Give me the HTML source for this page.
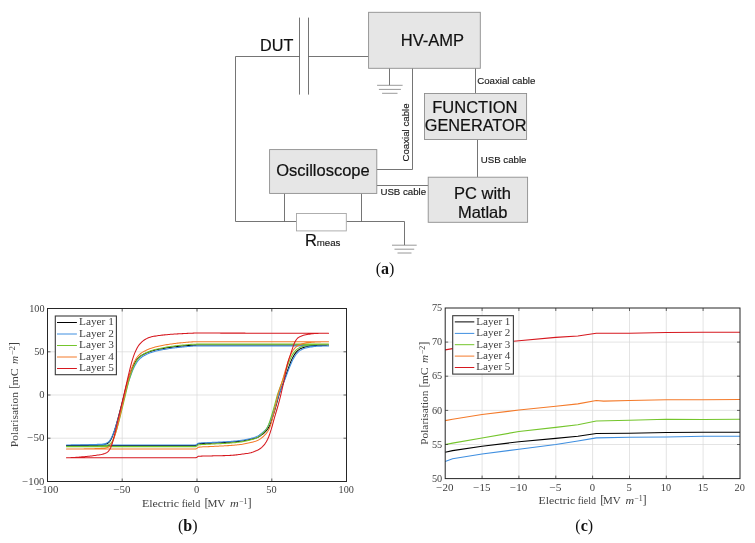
<!DOCTYPE html>
<html><head><meta charset="utf-8"><title>Figure</title>
<style>html,body{margin:0;padding:0;background:#fff}svg{display:block}.sans{font-family:"Liberation Sans",Arial,sans-serif;fill:#111;stroke:#111;stroke-width:0.2px}.sm{font-family:"Liberation Sans",Arial,sans-serif;fill:#1a1a1a;stroke:#1a1a1a;stroke-width:0.15px}.ser{font-family:"Liberation Serif","Times New Roman",serif;fill:#404040}.cap{font-family:"Liberation Serif","Times New Roman",serif;fill:#111}</style></head><body>
<svg width="755" height="543" viewBox="0 0 755 543">
<rect x="0" y="0" width="755" height="543" fill="#ffffff"/>
<g fill="none" stroke="#5c5c5c" stroke-width="0.85">
<path d="M299.5 56.5 H235.5 V221.5 H296.5"/>
<path d="M299.5 17.6 V94.6 M308.5 17.6 V94.6"/>
<path d="M308.5 56.5 H368.5"/>
<path d="M389.5 68 V85.2"/>
<path d="M377.1 85.3 H402.6 M378.9 89.4 H400.9 M382.1 93.3 H397.5" stroke="#777" stroke-width="0.75"/>
<path d="M412.5 68 V169.5 H376.8"/>
<path d="M475.5 68 V93.5"/>
<path d="M477.5 139.5 V177"/>
<path d="M376.8 185.5 H428.2"/>
<path d="M284.5 193.4 V221.5 M361.5 193.4 V221.5"/>
<path d="M346.3 221.5 H404.5 V245.1"/>
<path d="M392 245.2 H416.7 M394.5 249.2 H414.2 M397.5 253.0 H411.5" stroke="#777" stroke-width="0.75"/>
</g>
<rect x="368.6" y="12.3" width="111.7" height="56.0" fill="#e6e6e6" stroke="#8e8e8e" stroke-width="0.9"/>
<rect x="424.5" y="93.5" width="102.1" height="46.0" fill="#e6e6e6" stroke="#8e8e8e" stroke-width="0.9"/>
<rect x="428.2" y="177.2" width="99.4" height="45.1" fill="#e6e6e6" stroke="#8e8e8e" stroke-width="0.9"/>
<rect x="269.6" y="149.6" width="107.2" height="43.8" fill="#e6e6e6" stroke="#8e8e8e" stroke-width="0.9"/>
<rect x="296.5" y="213.5" width="49.8" height="17.4" fill="#ffffff" stroke="#a6a6a6" stroke-width="0.9"/>
<text class="sans" x="260.1" y="51" font-size="16.2" text-anchor="start" >DUT</text>
<text class="sans" x="432.4" y="45.8" font-size="16.5" text-anchor="middle" >HV-AMP</text>
<text class="sans" x="474.9" y="112.7" font-size="16.5" text-anchor="middle" >FUNCTION</text>
<text class="sans" x="475.6" y="131" font-size="16.5" text-anchor="middle" textLength="101.6" lengthAdjust="spacingAndGlyphs">GENERATOR</text>
<text class="sans" x="482.4" y="199.4" font-size="16.5" text-anchor="middle" >PC with</text>
<text class="sans" x="482.7" y="218" font-size="16.5" text-anchor="middle" >Matlab</text>
<text class="sans" x="322.9" y="176" font-size="16.5" text-anchor="middle" >Oscilloscope</text>
<text class="sm" x="477.2" y="83.8" font-size="9.7" >Coaxial cable</text>
<text class="sm" x="480.7" y="162.5" font-size="9.7" >USB cable</text>
<text class="sm" x="380.4" y="195.2" font-size="9.7" >USB cable</text>
<text class="sm" font-size="9.7" transform="translate(408.7,161.6) rotate(-90)">Coaxial cable</text>
<text class="sans" x="305.1" y="246" font-size="16.5">R</text>
<text class="sm" x="316.7" y="246" font-size="9.7" >meas</text>
<text class="cap" x="385" y="273.8" font-size="16" text-anchor="middle">(<tspan font-weight="bold">a</tspan>)</text>
<text class="cap" x="187.7" y="530.8" font-size="16" text-anchor="middle">(<tspan font-weight="bold">b</tspan>)</text>
<text class="cap" x="584.2" y="530.8" font-size="16" text-anchor="middle">(<tspan font-weight="bold">c</tspan>)</text>
<g stroke="#d9d9d9" stroke-width="0.7" fill="none">
<path d="M122.2 308.5 V481.5"/>
<path d="M197.0 308.5 V481.5"/>
<path d="M271.8 308.5 V481.5"/>
<path d="M47.5 438.2 H346.5"/>
<path d="M47.5 395.0 H346.5"/>
<path d="M47.5 351.8 H346.5"/>
</g>
<g fill="none" stroke-linejoin="round">
<path d="M66.49 445.52 L67.68 445.52 L68.88 445.52 L70.08 445.52 L71.27 445.52 L72.47 445.52 L73.67 445.52 L74.86 445.52 L76.06 445.52 L77.26 445.52 L78.45 445.52 L79.65 445.52 L80.85 445.52 L82.04 445.52 L83.24 445.52 L84.44 445.52 L85.63 445.52 L86.83 445.52 L88.03 445.52 L89.22 445.52 L90.42 445.52 L91.62 445.52 L92.81 445.52 L94.01 445.52 L95.21 445.52 L96.40 445.52 L97.60 445.52 L98.80 445.52 L99.99 445.52 L101.19 445.52 L102.39 445.52 L103.58 445.52 L104.78 445.52 L105.98 445.52 L107.17 445.52 L108.37 445.52 L109.57 445.52 L110.76 445.52 L111.96 445.52 L113.16 445.52 L114.35 445.52 L115.55 445.52 L116.75 445.52 L117.94 445.52 L119.14 445.52 L120.34 445.52 L121.53 445.52 L122.73 445.52 L123.93 445.52 L125.12 445.52 L126.32 445.52 L127.52 445.52 L128.71 445.52 L129.91 445.52 L131.11 445.52 L132.30 445.52 L133.50 445.52 L134.70 445.52 L135.89 445.52 L137.09 445.52 L138.29 445.52 L139.48 445.52 L140.68 445.52 L141.88 445.52 L143.07 445.52 L144.27 445.52 L145.47 445.52 L146.66 445.52 L147.86 445.52 L149.06 445.52 L150.25 445.52 L151.45 445.52 L152.65 445.52 L153.84 445.52 L155.04 445.52 L156.24 445.52 L157.43 445.52 L158.63 445.52 L159.83 445.52 L161.02 445.52 L162.22 445.52 L163.42 445.52 L164.61 445.52 L165.81 445.52 L167.01 445.52 L168.20 445.52 L169.40 445.52 L170.60 445.52 L171.79 445.52 L172.99 445.52 L174.19 445.52 L175.38 445.52 L176.58 445.52 L177.78 445.52 L178.97 445.52 L180.17 445.52 L181.37 445.52 L182.56 445.52 L183.76 445.52 L184.96 445.52 L186.15 445.52 L187.35 445.52 L188.55 445.52 L189.74 445.52 L190.94 445.52 L192.14 445.52 L193.33 445.52 L194.53 445.52 L195.73 445.52 L196.92 444.89 L198.12 443.85 L199.32 443.70 L200.51 443.58 L201.71 443.49 L202.91 443.42 L204.11 443.36 L205.30 443.32 L206.50 443.29 L207.70 443.25 L208.89 443.22 L210.09 443.18 L211.29 443.13 L212.48 443.07 L213.68 443.00 L214.88 442.94 L216.07 442.88 L217.27 442.83 L218.47 442.77 L219.66 442.72 L220.86 442.66 L222.06 442.60 L223.25 442.55 L224.45 442.48 L225.65 442.42 L226.84 442.35 L228.04 442.28 L229.24 442.21 L230.43 442.13 L231.63 442.04 L232.83 441.95 L234.02 441.85 L235.22 441.74 L236.42 441.63 L237.61 441.51 L238.81 441.38 L240.01 441.25 L241.20 441.10 L242.40 440.94 L243.60 440.75 L244.79 440.53 L245.99 440.31 L247.19 440.07 L248.38 439.83 L249.58 439.58 L250.78 439.30 L251.97 439.02 L253.17 438.73 L254.37 438.43 L255.56 438.09 L256.76 437.69 L257.96 437.19 L259.15 436.54 L260.35 435.79 L261.55 434.94 L262.74 434.04 L263.94 433.06 L265.14 431.95 L266.33 430.69 L267.53 429.24 L268.73 427.41 L269.92 425.02 L271.12 421.87 L272.32 418.15 L273.51 414.34 L274.71 410.35 L275.91 406.19 L277.10 401.84 L278.30 397.31 L279.50 393.28 L280.69 389.86 L281.89 386.72 L283.09 383.58 L284.28 380.22 L285.48 376.67 L286.68 373.09 L287.87 369.62 L289.07 366.32 L290.27 363.06 L291.46 360.12 L292.66 357.64 L293.86 355.46 L295.05 353.63 L296.25 352.13 L297.45 350.83 L298.64 349.83 L299.84 349.07 L301.04 348.41 L302.23 347.88 L303.43 347.46 L304.63 347.12 L305.82 346.81 L307.02 346.55 L308.22 346.32 L309.41 346.12 L310.61 345.97 L311.81 345.83 L313.00 345.71 L314.20 345.60 L315.40 345.50 L316.59 345.41 L317.79 345.34 L318.99 345.29 L320.18 345.25 L321.38 345.21 L322.58 345.18 L323.77 345.15 L324.97 345.12 L326.17 345.11 L327.36 345.09 L328.56 345.09 L328.56 345.09 L327.36 345.09 L326.17 345.09 L324.97 345.09 L323.77 345.09 L322.58 345.09 L321.38 345.09 L320.18 345.09 L318.99 345.09 L317.79 345.09 L316.59 345.09 L315.40 345.09 L314.20 345.09 L313.00 345.09 L311.81 345.09 L310.61 345.09 L309.41 345.09 L308.22 345.09 L307.02 345.09 L305.82 345.09 L304.63 345.09 L303.43 345.09 L302.23 345.09 L301.04 345.09 L299.84 345.09 L298.64 345.09 L297.45 345.09 L296.25 345.09 L295.05 345.09 L293.86 345.09 L292.66 345.09 L291.46 345.09 L290.27 345.09 L289.07 345.09 L287.87 345.09 L286.68 345.09 L285.48 345.09 L284.28 345.09 L283.09 345.09 L281.89 345.09 L280.69 345.09 L279.50 345.09 L278.30 345.09 L277.10 345.09 L275.91 345.09 L274.71 345.09 L273.51 345.09 L272.32 345.09 L271.12 345.09 L269.92 345.09 L268.73 345.09 L267.53 345.09 L266.33 345.09 L265.14 345.09 L263.94 345.09 L262.74 345.09 L261.55 345.09 L260.35 345.09 L259.15 345.09 L257.96 345.09 L256.76 345.09 L255.56 345.09 L254.37 345.09 L253.17 345.09 L251.97 345.09 L250.78 345.09 L249.58 345.09 L248.38 345.09 L247.19 345.09 L245.99 345.09 L244.79 345.09 L243.60 345.09 L242.40 345.09 L241.20 345.09 L240.01 345.09 L238.81 345.09 L237.61 345.09 L236.42 345.09 L235.22 345.09 L234.02 345.09 L232.83 345.09 L231.63 345.09 L230.43 345.09 L229.24 345.09 L228.04 345.09 L226.84 345.09 L225.65 345.09 L224.45 345.09 L223.25 345.09 L222.06 345.09 L220.86 345.09 L219.66 345.09 L218.47 345.09 L217.27 345.09 L216.07 345.09 L214.88 345.09 L213.68 345.09 L212.48 345.09 L211.29 345.09 L210.09 345.09 L208.89 345.09 L207.70 345.09 L206.50 345.09 L205.30 345.09 L204.11 345.09 L202.91 345.09 L201.71 345.09 L200.51 345.09 L199.32 345.09 L198.12 345.09 L196.92 345.09 L195.73 345.10 L194.53 345.13 L193.33 345.17 L192.14 345.23 L190.94 345.30 L189.74 345.38 L188.55 345.47 L187.35 345.57 L186.15 345.67 L184.96 345.77 L183.76 345.87 L182.56 345.97 L181.37 346.07 L180.17 346.18 L178.97 346.29 L177.78 346.41 L176.58 346.54 L175.38 346.68 L174.19 346.83 L172.99 346.98 L171.79 347.13 L170.60 347.29 L169.40 347.46 L168.20 347.63 L167.01 347.82 L165.81 348.01 L164.61 348.22 L163.42 348.43 L162.22 348.65 L161.02 348.87 L159.83 349.10 L158.63 349.34 L157.43 349.58 L156.24 349.84 L155.04 350.11 L153.84 350.40 L152.65 350.72 L151.45 351.07 L150.25 351.47 L149.06 351.91 L147.86 352.38 L146.66 352.89 L145.47 353.42 L144.27 353.97 L143.07 354.56 L141.88 355.24 L140.68 356.02 L139.48 356.97 L138.29 358.10 L137.09 359.41 L135.89 361.00 L134.70 362.94 L133.50 365.19 L132.30 367.79 L131.11 370.79 L129.91 374.12 L128.71 377.72 L127.52 381.55 L126.32 385.94 L125.12 390.74 L123.93 395.62 L122.73 400.32 L121.53 405.01 L120.34 409.68 L119.14 414.24 L117.94 418.62 L116.75 422.98 L115.55 427.17 L114.35 430.99 L113.16 434.36 L111.96 437.42 L110.76 439.80 L109.57 441.62 L108.37 442.79 L107.17 443.55 L105.98 444.05 L104.78 444.31 L103.58 444.51 L102.39 444.66 L101.19 444.77 L99.99 444.85 L98.80 444.92 L97.60 444.98 L96.40 445.03 L95.21 445.08 L94.01 445.12 L92.81 445.16 L91.62 445.19 L90.42 445.22 L89.22 445.24 L88.03 445.26 L86.83 445.29 L85.63 445.31 L84.44 445.33 L83.24 445.35 L82.04 445.37 L80.85 445.39 L79.65 445.41 L78.45 445.42 L77.26 445.44 L76.06 445.46 L74.86 445.47 L73.67 445.48 L72.47 445.49 L71.27 445.50 L70.08 445.51 L68.88 445.51 L67.68 445.51 L66.49 445.52Z" stroke="#000000" stroke-width="1.05"/>
<path d="M66.49 444.91 L67.68 444.91 L68.88 444.91 L70.08 444.91 L71.27 444.91 L72.47 444.91 L73.67 444.91 L74.86 444.91 L76.06 444.91 L77.26 444.91 L78.45 444.91 L79.65 444.91 L80.85 444.91 L82.04 444.91 L83.24 444.91 L84.44 444.91 L85.63 444.91 L86.83 444.91 L88.03 444.91 L89.22 444.91 L90.42 444.91 L91.62 444.91 L92.81 444.91 L94.01 444.91 L95.21 444.91 L96.40 444.91 L97.60 444.91 L98.80 444.91 L99.99 444.91 L101.19 444.91 L102.39 444.91 L103.58 444.91 L104.78 444.91 L105.98 444.91 L107.17 444.91 L108.37 444.91 L109.57 444.91 L110.76 444.91 L111.96 444.91 L113.16 444.91 L114.35 444.91 L115.55 444.91 L116.75 444.91 L117.94 444.91 L119.14 444.91 L120.34 444.91 L121.53 444.91 L122.73 444.91 L123.93 444.91 L125.12 444.91 L126.32 444.91 L127.52 444.91 L128.71 444.91 L129.91 444.91 L131.11 444.91 L132.30 444.91 L133.50 444.91 L134.70 444.91 L135.89 444.91 L137.09 444.91 L138.29 444.91 L139.48 444.91 L140.68 444.91 L141.88 444.91 L143.07 444.91 L144.27 444.91 L145.47 444.91 L146.66 444.91 L147.86 444.91 L149.06 444.91 L150.25 444.91 L151.45 444.91 L152.65 444.91 L153.84 444.91 L155.04 444.91 L156.24 444.91 L157.43 444.91 L158.63 444.91 L159.83 444.91 L161.02 444.91 L162.22 444.91 L163.42 444.91 L164.61 444.91 L165.81 444.91 L167.01 444.91 L168.20 444.91 L169.40 444.91 L170.60 444.91 L171.79 444.91 L172.99 444.91 L174.19 444.91 L175.38 444.91 L176.58 444.91 L177.78 444.91 L178.97 444.91 L180.17 444.91 L181.37 444.91 L182.56 444.91 L183.76 444.91 L184.96 444.91 L186.15 444.91 L187.35 444.91 L188.55 444.91 L189.74 444.91 L190.94 444.91 L192.14 444.91 L193.33 444.91 L194.53 444.91 L195.73 444.91 L196.92 444.29 L198.12 443.26 L199.32 443.10 L200.51 442.97 L201.71 442.88 L202.91 442.81 L204.11 442.75 L205.30 442.71 L206.50 442.67 L207.70 442.63 L208.89 442.58 L210.09 442.53 L211.29 442.46 L212.48 442.39 L213.68 442.33 L214.88 442.28 L216.07 442.22 L217.27 442.17 L218.47 442.11 L219.66 442.06 L220.86 442.00 L222.06 441.95 L223.25 441.89 L224.45 441.82 L225.65 441.76 L226.84 441.68 L228.04 441.61 L229.24 441.53 L230.43 441.44 L231.63 441.35 L232.83 441.25 L234.02 441.14 L235.22 441.03 L236.42 440.90 L237.61 440.77 L238.81 440.64 L240.01 440.49 L241.20 440.32 L242.40 440.13 L243.60 439.91 L244.79 439.68 L245.99 439.45 L247.19 439.21 L248.38 438.95 L249.58 438.68 L250.78 438.40 L251.97 438.11 L253.17 437.81 L254.37 437.46 L255.56 437.05 L256.76 436.52 L257.96 435.86 L259.15 435.11 L260.35 434.28 L261.55 433.39 L262.74 432.43 L263.94 431.34 L265.14 430.12 L266.33 428.72 L267.53 426.98 L268.73 424.76 L269.92 421.94 L271.12 418.64 L272.32 415.21 L273.51 411.71 L274.71 408.05 L275.91 404.31 L277.10 400.34 L278.30 396.39 L279.50 392.90 L280.69 389.84 L281.89 386.99 L283.09 384.15 L284.28 381.15 L285.48 377.98 L286.68 374.76 L287.87 371.58 L289.07 368.55 L290.27 365.56 L291.46 362.68 L292.66 360.11 L293.86 357.89 L295.05 355.91 L296.25 354.24 L297.45 352.83 L298.64 351.61 L299.84 350.65 L301.04 349.92 L302.23 349.28 L303.43 348.76 L304.63 348.35 L305.82 348.01 L307.02 347.72 L308.22 347.46 L309.41 347.23 L310.61 347.04 L311.81 346.87 L313.00 346.73 L314.20 346.59 L315.40 346.46 L316.59 346.35 L317.79 346.26 L318.99 346.19 L320.18 346.15 L321.38 346.12 L322.58 346.08 L323.77 346.05 L324.97 346.03 L326.17 346.01 L327.36 346.00 L328.56 346.00 L328.56 346.00 L327.36 346.00 L326.17 346.00 L324.97 346.00 L323.77 346.00 L322.58 346.00 L321.38 346.00 L320.18 346.00 L318.99 346.00 L317.79 346.00 L316.59 346.00 L315.40 346.00 L314.20 346.00 L313.00 346.00 L311.81 346.00 L310.61 346.00 L309.41 346.00 L308.22 346.00 L307.02 346.00 L305.82 346.00 L304.63 346.00 L303.43 346.00 L302.23 346.00 L301.04 346.00 L299.84 346.00 L298.64 346.00 L297.45 346.00 L296.25 346.00 L295.05 346.00 L293.86 346.00 L292.66 346.00 L291.46 346.00 L290.27 346.00 L289.07 346.00 L287.87 346.00 L286.68 346.00 L285.48 346.00 L284.28 346.00 L283.09 346.00 L281.89 346.00 L280.69 346.00 L279.50 346.00 L278.30 346.00 L277.10 346.00 L275.91 346.00 L274.71 346.00 L273.51 346.00 L272.32 346.00 L271.12 346.00 L269.92 346.00 L268.73 346.00 L267.53 346.00 L266.33 346.00 L265.14 346.00 L263.94 346.00 L262.74 346.00 L261.55 346.00 L260.35 346.00 L259.15 346.00 L257.96 346.00 L256.76 346.00 L255.56 346.00 L254.37 346.00 L253.17 346.00 L251.97 346.00 L250.78 346.00 L249.58 346.00 L248.38 346.00 L247.19 346.00 L245.99 346.00 L244.79 346.00 L243.60 346.00 L242.40 346.00 L241.20 346.00 L240.01 346.00 L238.81 346.00 L237.61 346.00 L236.42 346.00 L235.22 346.00 L234.02 346.00 L232.83 346.00 L231.63 346.00 L230.43 346.00 L229.24 346.00 L228.04 346.00 L226.84 346.00 L225.65 346.00 L224.45 346.00 L223.25 346.00 L222.06 346.00 L220.86 346.00 L219.66 346.00 L218.47 346.00 L217.27 346.00 L216.07 346.00 L214.88 346.00 L213.68 346.00 L212.48 346.00 L211.29 346.00 L210.09 346.00 L208.89 346.00 L207.70 346.00 L206.50 346.00 L205.30 346.00 L204.11 346.00 L202.91 346.00 L201.71 346.00 L200.51 346.00 L199.32 346.00 L198.12 346.00 L196.92 346.00 L195.73 346.01 L194.53 346.05 L193.33 346.10 L192.14 346.18 L190.94 346.26 L189.74 346.36 L188.55 346.47 L187.35 346.58 L186.15 346.69 L184.96 346.80 L183.76 346.91 L182.56 347.01 L181.37 347.12 L180.17 347.24 L178.97 347.37 L177.78 347.50 L176.58 347.63 L175.38 347.77 L174.19 347.92 L172.99 348.07 L171.79 348.23 L170.60 348.40 L169.40 348.58 L168.20 348.76 L167.01 348.96 L165.81 349.16 L164.61 349.37 L163.42 349.59 L162.22 349.81 L161.02 350.04 L159.83 350.27 L158.63 350.51 L157.43 350.77 L156.24 351.04 L155.04 351.34 L153.84 351.66 L152.65 352.02 L151.45 352.42 L150.25 352.86 L149.06 353.34 L147.86 353.84 L146.66 354.36 L145.47 354.91 L144.27 355.51 L143.07 356.19 L141.88 357.00 L140.68 357.97 L139.48 359.10 L138.29 360.41 L137.09 362.00 L135.89 363.91 L134.70 366.07 L133.50 368.56 L132.30 371.39 L131.11 374.49 L129.91 377.81 L128.71 381.30 L127.52 385.23 L126.32 389.53 L125.12 393.96 L123.93 398.31 L122.73 402.57 L121.53 406.85 L120.34 411.10 L119.14 415.22 L117.94 419.23 L116.75 423.22 L115.55 427.05 L114.35 430.57 L113.16 433.73 L111.96 436.63 L110.76 438.98 L109.57 440.78 L108.37 442.04 L107.17 442.83 L105.98 443.38 L104.78 443.67 L103.58 443.88 L102.39 444.03 L101.19 444.15 L99.99 444.24 L98.80 444.30 L97.60 444.36 L96.40 444.42 L95.21 444.47 L94.01 444.51 L92.81 444.55 L91.62 444.58 L90.42 444.61 L89.22 444.63 L88.03 444.66 L86.83 444.68 L85.63 444.70 L84.44 444.72 L83.24 444.74 L82.04 444.76 L80.85 444.78 L79.65 444.80 L78.45 444.82 L77.26 444.83 L76.06 444.85 L74.86 444.86 L73.67 444.87 L72.47 444.89 L71.27 444.89 L70.08 444.90 L68.88 444.91 L67.68 444.91 L66.49 444.91Z" stroke="#3f8fe0" stroke-width="1.05"/>
<path d="M66.49 446.64 L67.68 446.64 L68.88 446.64 L70.08 446.64 L71.27 446.64 L72.47 446.64 L73.67 446.64 L74.86 446.64 L76.06 446.64 L77.26 446.64 L78.45 446.64 L79.65 446.64 L80.85 446.64 L82.04 446.64 L83.24 446.64 L84.44 446.64 L85.63 446.64 L86.83 446.64 L88.03 446.64 L89.22 446.64 L90.42 446.64 L91.62 446.64 L92.81 446.64 L94.01 446.64 L95.21 446.64 L96.40 446.64 L97.60 446.64 L98.80 446.64 L99.99 446.64 L101.19 446.64 L102.39 446.64 L103.58 446.64 L104.78 446.64 L105.98 446.64 L107.17 446.64 L108.37 446.64 L109.57 446.64 L110.76 446.64 L111.96 446.64 L113.16 446.64 L114.35 446.64 L115.55 446.64 L116.75 446.64 L117.94 446.64 L119.14 446.64 L120.34 446.64 L121.53 446.64 L122.73 446.64 L123.93 446.64 L125.12 446.64 L126.32 446.64 L127.52 446.64 L128.71 446.64 L129.91 446.64 L131.11 446.64 L132.30 446.64 L133.50 446.64 L134.70 446.64 L135.89 446.64 L137.09 446.64 L138.29 446.64 L139.48 446.64 L140.68 446.64 L141.88 446.64 L143.07 446.64 L144.27 446.64 L145.47 446.64 L146.66 446.64 L147.86 446.64 L149.06 446.64 L150.25 446.64 L151.45 446.64 L152.65 446.64 L153.84 446.64 L155.04 446.64 L156.24 446.64 L157.43 446.64 L158.63 446.64 L159.83 446.64 L161.02 446.64 L162.22 446.64 L163.42 446.64 L164.61 446.64 L165.81 446.64 L167.01 446.64 L168.20 446.64 L169.40 446.64 L170.60 446.64 L171.79 446.64 L172.99 446.64 L174.19 446.64 L175.38 446.64 L176.58 446.64 L177.78 446.64 L178.97 446.64 L180.17 446.64 L181.37 446.64 L182.56 446.64 L183.76 446.64 L184.96 446.64 L186.15 446.64 L187.35 446.64 L188.55 446.64 L189.74 446.64 L190.94 446.64 L192.14 446.64 L193.33 446.64 L194.53 446.64 L195.73 446.64 L196.92 446.00 L198.12 444.93 L199.32 444.76 L200.51 444.63 L201.71 444.54 L202.91 444.46 L204.11 444.40 L205.30 444.36 L206.50 444.32 L207.70 444.28 L208.89 444.23 L210.09 444.17 L211.29 444.10 L212.48 444.03 L213.68 443.97 L214.88 443.91 L216.07 443.85 L217.27 443.80 L218.47 443.74 L219.66 443.68 L220.86 443.63 L222.06 443.57 L223.25 443.51 L224.45 443.44 L225.65 443.37 L226.84 443.30 L228.04 443.22 L229.24 443.13 L230.43 443.04 L231.63 442.94 L232.83 442.84 L234.02 442.73 L235.22 442.61 L236.42 442.48 L237.61 442.35 L238.81 442.20 L240.01 442.05 L241.20 441.88 L242.40 441.67 L243.60 441.44 L244.79 441.20 L245.99 440.96 L247.19 440.71 L248.38 440.44 L249.58 440.15 L250.78 439.86 L251.97 439.56 L253.17 439.24 L254.37 438.86 L255.56 438.42 L256.76 437.84 L257.96 437.12 L259.15 436.31 L260.35 435.42 L261.55 434.47 L262.74 433.41 L263.94 432.22 L265.14 430.86 L266.33 429.27 L267.53 427.15 L268.73 424.44 L269.92 420.97 L271.12 417.14 L272.32 413.27 L273.51 409.17 L274.71 404.95 L275.91 400.45 L277.10 395.99 L278.30 392.16 L279.50 388.83 L280.69 385.69 L281.89 382.49 L283.09 379.04 L284.28 375.45 L285.48 371.86 L286.68 368.42 L287.87 365.09 L289.07 361.86 L290.27 358.97 L291.46 356.53 L292.66 354.38 L293.86 352.59 L295.05 351.09 L296.25 349.82 L297.45 348.85 L298.64 348.09 L299.84 347.44 L301.04 346.91 L302.23 346.50 L303.43 346.16 L304.63 345.85 L305.82 345.58 L307.02 345.35 L308.22 345.16 L309.41 345.02 L310.61 344.89 L311.81 344.78 L313.00 344.68 L314.20 344.59 L315.40 344.51 L316.59 344.44 L317.79 344.38 L318.99 344.34 L320.18 344.30 L321.38 344.26 L322.58 344.23 L323.77 344.20 L324.97 344.17 L326.17 344.16 L327.36 344.14 L328.56 344.14 L328.56 344.14 L327.36 344.14 L326.17 344.14 L324.97 344.14 L323.77 344.14 L322.58 344.14 L321.38 344.14 L320.18 344.14 L318.99 344.14 L317.79 344.14 L316.59 344.14 L315.40 344.14 L314.20 344.14 L313.00 344.14 L311.81 344.14 L310.61 344.14 L309.41 344.14 L308.22 344.14 L307.02 344.14 L305.82 344.14 L304.63 344.14 L303.43 344.14 L302.23 344.14 L301.04 344.14 L299.84 344.14 L298.64 344.14 L297.45 344.14 L296.25 344.14 L295.05 344.14 L293.86 344.14 L292.66 344.14 L291.46 344.14 L290.27 344.14 L289.07 344.14 L287.87 344.14 L286.68 344.14 L285.48 344.14 L284.28 344.14 L283.09 344.14 L281.89 344.14 L280.69 344.14 L279.50 344.14 L278.30 344.14 L277.10 344.14 L275.91 344.14 L274.71 344.14 L273.51 344.14 L272.32 344.14 L271.12 344.14 L269.92 344.14 L268.73 344.14 L267.53 344.14 L266.33 344.14 L265.14 344.14 L263.94 344.14 L262.74 344.14 L261.55 344.14 L260.35 344.14 L259.15 344.14 L257.96 344.14 L256.76 344.14 L255.56 344.14 L254.37 344.14 L253.17 344.14 L251.97 344.14 L250.78 344.14 L249.58 344.14 L248.38 344.14 L247.19 344.14 L245.99 344.14 L244.79 344.14 L243.60 344.14 L242.40 344.14 L241.20 344.14 L240.01 344.14 L238.81 344.14 L237.61 344.14 L236.42 344.14 L235.22 344.14 L234.02 344.14 L232.83 344.14 L231.63 344.14 L230.43 344.14 L229.24 344.14 L228.04 344.14 L226.84 344.14 L225.65 344.14 L224.45 344.14 L223.25 344.14 L222.06 344.14 L220.86 344.14 L219.66 344.14 L218.47 344.14 L217.27 344.14 L216.07 344.14 L214.88 344.14 L213.68 344.14 L212.48 344.14 L211.29 344.14 L210.09 344.14 L208.89 344.14 L207.70 344.14 L206.50 344.14 L205.30 344.14 L204.11 344.14 L202.91 344.14 L201.71 344.14 L200.51 344.14 L199.32 344.14 L198.12 344.14 L196.92 344.14 L195.73 344.15 L194.53 344.18 L193.33 344.23 L192.14 344.30 L190.94 344.38 L189.74 344.47 L188.55 344.57 L187.35 344.68 L186.15 344.79 L184.96 344.90 L183.76 345.01 L182.56 345.11 L181.37 345.22 L180.17 345.34 L178.97 345.46 L177.78 345.59 L176.58 345.73 L175.38 345.87 L174.19 346.02 L172.99 346.18 L171.79 346.34 L170.60 346.51 L169.40 346.69 L168.20 346.87 L167.01 347.07 L165.81 347.28 L164.61 347.49 L163.42 347.71 L162.22 347.94 L161.02 348.17 L159.83 348.41 L158.63 348.66 L157.43 348.92 L156.24 349.19 L155.04 349.49 L153.84 349.81 L152.65 350.16 L151.45 350.55 L150.25 350.99 L149.06 351.47 L147.86 351.99 L146.66 352.52 L145.47 353.08 L144.27 353.68 L143.07 354.35 L141.88 355.13 L140.68 356.08 L139.48 357.21 L138.29 358.53 L137.09 360.11 L135.89 362.08 L134.70 364.37 L133.50 367.03 L132.30 370.13 L131.11 373.60 L129.91 377.36 L128.71 381.38 L127.52 386.03 L126.32 391.12 L125.12 396.27 L123.93 401.22 L122.73 406.20 L121.53 411.13 L120.34 415.91 L119.14 420.52 L117.94 425.09 L116.75 429.39 L115.55 433.20 L114.35 436.63 L113.16 439.56 L111.96 441.72 L110.76 443.33 L109.57 444.26 L108.37 444.92 L107.17 445.29 L105.98 445.52 L104.78 445.69 L103.58 445.83 L102.39 445.92 L101.19 445.99 L99.99 446.06 L98.80 446.12 L97.60 446.17 L96.40 446.21 L95.21 446.26 L94.01 446.29 L92.81 446.32 L91.62 446.35 L90.42 446.37 L89.22 446.39 L88.03 446.42 L86.83 446.44 L85.63 446.46 L84.44 446.48 L83.24 446.49 L82.04 446.51 L80.85 446.53 L79.65 446.55 L78.45 446.56 L77.26 446.58 L76.06 446.59 L74.86 446.60 L73.67 446.61 L72.47 446.62 L71.27 446.63 L70.08 446.63 L68.88 446.64 L67.68 446.64 L66.49 446.64Z" stroke="#74c52c" stroke-width="1.05"/>
<path d="M66.49 449.06 L67.68 449.06 L68.88 449.06 L70.08 449.06 L71.27 449.06 L72.47 449.06 L73.67 449.06 L74.86 449.06 L76.06 449.06 L77.26 449.06 L78.45 449.06 L79.65 449.06 L80.85 449.06 L82.04 449.06 L83.24 449.06 L84.44 449.06 L85.63 449.06 L86.83 449.06 L88.03 449.06 L89.22 449.06 L90.42 449.06 L91.62 449.06 L92.81 449.06 L94.01 449.06 L95.21 449.06 L96.40 449.06 L97.60 449.06 L98.80 449.06 L99.99 449.06 L101.19 449.06 L102.39 449.06 L103.58 449.06 L104.78 449.06 L105.98 449.06 L107.17 449.06 L108.37 449.06 L109.57 449.06 L110.76 449.06 L111.96 449.06 L113.16 449.06 L114.35 449.06 L115.55 449.06 L116.75 449.06 L117.94 449.06 L119.14 449.06 L120.34 449.06 L121.53 449.06 L122.73 449.06 L123.93 449.06 L125.12 449.06 L126.32 449.06 L127.52 449.06 L128.71 449.06 L129.91 449.06 L131.11 449.06 L132.30 449.06 L133.50 449.06 L134.70 449.06 L135.89 449.06 L137.09 449.06 L138.29 449.06 L139.48 449.06 L140.68 449.06 L141.88 449.06 L143.07 449.06 L144.27 449.06 L145.47 449.06 L146.66 449.06 L147.86 449.06 L149.06 449.06 L150.25 449.06 L151.45 449.06 L152.65 449.06 L153.84 449.06 L155.04 449.06 L156.24 449.06 L157.43 449.06 L158.63 449.06 L159.83 449.06 L161.02 449.06 L162.22 449.06 L163.42 449.06 L164.61 449.06 L165.81 449.06 L167.01 449.06 L168.20 449.06 L169.40 449.06 L170.60 449.06 L171.79 449.06 L172.99 449.06 L174.19 449.06 L175.38 449.06 L176.58 449.06 L177.78 449.06 L178.97 449.06 L180.17 449.06 L181.37 449.06 L182.56 449.06 L183.76 449.06 L184.96 449.06 L186.15 449.06 L187.35 449.06 L188.55 449.06 L189.74 449.06 L190.94 449.06 L192.14 449.06 L193.33 449.06 L194.53 449.06 L195.73 449.06 L196.92 448.39 L198.12 447.28 L199.32 447.13 L200.51 447.00 L201.71 446.91 L202.91 446.83 L204.11 446.77 L205.30 446.72 L206.50 446.69 L207.70 446.65 L208.89 446.62 L210.09 446.58 L211.29 446.53 L212.48 446.47 L213.68 446.40 L214.88 446.34 L216.07 446.28 L217.27 446.21 L218.47 446.15 L219.66 446.09 L220.86 446.03 L222.06 445.97 L223.25 445.91 L224.45 445.85 L225.65 445.78 L226.84 445.71 L228.04 445.63 L229.24 445.56 L230.43 445.47 L231.63 445.38 L232.83 445.28 L234.02 445.18 L235.22 445.07 L236.42 444.95 L237.61 444.83 L238.81 444.69 L240.01 444.55 L241.20 444.40 L242.40 444.24 L243.60 444.04 L244.79 443.82 L245.99 443.58 L247.19 443.33 L248.38 443.07 L249.58 442.80 L250.78 442.51 L251.97 442.21 L253.17 441.90 L254.37 441.58 L255.56 441.23 L256.76 440.82 L257.96 440.32 L259.15 439.66 L260.35 438.86 L261.55 437.96 L262.74 436.98 L263.94 435.93 L265.14 434.73 L266.33 433.36 L267.53 431.77 L268.73 429.75 L269.92 427.00 L271.12 423.23 L272.32 418.78 L273.51 414.21 L274.71 409.32 L275.91 404.23 L277.10 398.73 L278.30 393.72 L279.50 389.65 L280.69 386.00 L281.89 382.34 L283.09 378.35 L284.28 374.14 L285.48 369.97 L286.68 366.03 L287.87 362.19 L289.07 358.62 L290.27 355.66 L291.46 353.13 L292.66 351.02 L293.86 349.32 L295.05 347.88 L296.25 346.78 L297.45 345.94 L298.64 345.24 L299.84 344.67 L301.04 344.22 L302.23 343.85 L303.43 343.52 L304.63 343.23 L305.82 342.99 L307.02 342.79 L308.22 342.64 L309.41 342.52 L310.61 342.41 L311.81 342.31 L313.00 342.23 L314.20 342.15 L315.40 342.08 L316.59 342.02 L317.79 341.97 L318.99 341.92 L320.18 341.88 L321.38 341.85 L322.58 341.81 L323.77 341.78 L324.97 341.76 L326.17 341.74 L327.36 341.72 L328.56 341.72 L328.56 341.72 L327.36 341.72 L326.17 341.72 L324.97 341.72 L323.77 341.72 L322.58 341.72 L321.38 341.72 L320.18 341.72 L318.99 341.72 L317.79 341.72 L316.59 341.72 L315.40 341.72 L314.20 341.72 L313.00 341.72 L311.81 341.72 L310.61 341.72 L309.41 341.72 L308.22 341.72 L307.02 341.72 L305.82 341.72 L304.63 341.72 L303.43 341.72 L302.23 341.72 L301.04 341.72 L299.84 341.72 L298.64 341.72 L297.45 341.72 L296.25 341.72 L295.05 341.72 L293.86 341.72 L292.66 341.72 L291.46 341.72 L290.27 341.72 L289.07 341.72 L287.87 341.72 L286.68 341.72 L285.48 341.72 L284.28 341.72 L283.09 341.72 L281.89 341.72 L280.69 341.72 L279.50 341.72 L278.30 341.72 L277.10 341.72 L275.91 341.72 L274.71 341.72 L273.51 341.72 L272.32 341.72 L271.12 341.72 L269.92 341.72 L268.73 341.72 L267.53 341.72 L266.33 341.72 L265.14 341.72 L263.94 341.72 L262.74 341.72 L261.55 341.72 L260.35 341.72 L259.15 341.72 L257.96 341.72 L256.76 341.72 L255.56 341.72 L254.37 341.72 L253.17 341.72 L251.97 341.72 L250.78 341.72 L249.58 341.72 L248.38 341.72 L247.19 341.72 L245.99 341.72 L244.79 341.72 L243.60 341.72 L242.40 341.72 L241.20 341.72 L240.01 341.72 L238.81 341.72 L237.61 341.72 L236.42 341.72 L235.22 341.72 L234.02 341.72 L232.83 341.72 L231.63 341.72 L230.43 341.72 L229.24 341.72 L228.04 341.72 L226.84 341.72 L225.65 341.72 L224.45 341.72 L223.25 341.72 L222.06 341.72 L220.86 341.72 L219.66 341.72 L218.47 341.72 L217.27 341.72 L216.07 341.72 L214.88 341.72 L213.68 341.72 L212.48 341.72 L211.29 341.72 L210.09 341.72 L208.89 341.72 L207.70 341.72 L206.50 341.72 L205.30 341.72 L204.11 341.72 L202.91 341.72 L201.71 341.72 L200.51 341.72 L199.32 341.72 L198.12 341.72 L196.92 341.72 L195.73 341.73 L194.53 341.76 L193.33 341.81 L192.14 341.87 L190.94 341.94 L189.74 342.03 L188.55 342.12 L187.35 342.22 L186.15 342.33 L184.96 342.44 L183.76 342.55 L182.56 342.66 L181.37 342.77 L180.17 342.88 L178.97 343.00 L177.78 343.13 L176.58 343.27 L175.38 343.42 L174.19 343.57 L172.99 343.73 L171.79 343.90 L170.60 344.07 L169.40 344.25 L168.20 344.44 L167.01 344.64 L165.81 344.84 L164.61 345.06 L163.42 345.29 L162.22 345.52 L161.02 345.76 L159.83 346.01 L158.63 346.26 L157.43 346.52 L156.24 346.80 L155.04 347.09 L153.84 347.41 L152.65 347.75 L151.45 348.13 L150.25 348.56 L149.06 349.03 L147.86 349.55 L146.66 350.09 L145.47 350.66 L144.27 351.25 L143.07 351.90 L141.88 352.64 L140.68 353.50 L139.48 354.55 L138.29 355.80 L137.09 357.26 L135.89 359.05 L134.70 361.24 L133.50 363.77 L132.30 366.75 L131.11 370.18 L129.91 373.98 L128.71 378.06 L127.52 382.56 L126.32 387.76 L125.12 393.27 L123.93 398.67 L122.73 403.94 L121.53 409.24 L120.34 414.44 L119.14 419.40 L117.94 424.31 L116.75 429.05 L115.55 433.36 L114.35 437.12 L113.16 440.50 L111.96 443.08 L110.76 445.03 L109.57 446.23 L108.37 447.03 L107.17 447.53 L105.98 447.80 L104.78 448.01 L103.58 448.16 L102.39 448.28 L101.19 448.36 L99.99 448.43 L98.80 448.49 L97.60 448.55 L96.40 448.60 L95.21 448.64 L94.01 448.68 L92.81 448.72 L91.62 448.75 L90.42 448.77 L89.22 448.80 L88.03 448.82 L86.83 448.84 L85.63 448.86 L84.44 448.88 L83.24 448.90 L82.04 448.92 L80.85 448.94 L79.65 448.96 L78.45 448.98 L77.26 448.99 L76.06 449.01 L74.86 449.02 L73.67 449.03 L72.47 449.04 L71.27 449.05 L70.08 449.05 L68.88 449.06 L67.68 449.06 L66.49 449.06Z" stroke="#f47a2a" stroke-width="1.05"/>
<path d="M66.49 457.80 L67.68 457.80 L68.88 457.80 L70.08 457.80 L71.27 457.80 L72.47 457.80 L73.67 457.80 L74.86 457.80 L76.06 457.80 L77.26 457.80 L78.45 457.80 L79.65 457.80 L80.85 457.80 L82.04 457.80 L83.24 457.80 L84.44 457.80 L85.63 457.80 L86.83 457.80 L88.03 457.80 L89.22 457.80 L90.42 457.80 L91.62 457.80 L92.81 457.80 L94.01 457.80 L95.21 457.80 L96.40 457.80 L97.60 457.80 L98.80 457.80 L99.99 457.80 L101.19 457.80 L102.39 457.80 L103.58 457.80 L104.78 457.80 L105.98 457.80 L107.17 457.80 L108.37 457.80 L109.57 457.80 L110.76 457.80 L111.96 457.80 L113.16 457.80 L114.35 457.80 L115.55 457.80 L116.75 457.80 L117.94 457.80 L119.14 457.80 L120.34 457.80 L121.53 457.80 L122.73 457.80 L123.93 457.80 L125.12 457.80 L126.32 457.80 L127.52 457.80 L128.71 457.80 L129.91 457.80 L131.11 457.80 L132.30 457.80 L133.50 457.80 L134.70 457.80 L135.89 457.80 L137.09 457.80 L138.29 457.80 L139.48 457.80 L140.68 457.80 L141.88 457.80 L143.07 457.80 L144.27 457.80 L145.47 457.80 L146.66 457.80 L147.86 457.80 L149.06 457.80 L150.25 457.80 L151.45 457.80 L152.65 457.80 L153.84 457.80 L155.04 457.80 L156.24 457.80 L157.43 457.80 L158.63 457.80 L159.83 457.80 L161.02 457.80 L162.22 457.80 L163.42 457.80 L164.61 457.80 L165.81 457.80 L167.01 457.80 L168.20 457.80 L169.40 457.80 L170.60 457.80 L171.79 457.80 L172.99 457.80 L174.19 457.80 L175.38 457.80 L176.58 457.80 L177.78 457.80 L178.97 457.80 L180.17 457.80 L181.37 457.80 L182.56 457.80 L183.76 457.80 L184.96 457.80 L186.15 457.80 L187.35 457.80 L188.55 457.80 L189.74 457.80 L190.94 457.80 L192.14 457.80 L193.33 457.80 L194.53 457.80 L195.73 457.80 L196.92 457.23 L198.12 456.33 L199.32 456.24 L200.51 456.17 L201.71 456.12 L202.91 456.08 L204.11 456.04 L205.30 456.02 L206.50 456.00 L207.70 455.98 L208.89 455.96 L210.09 455.94 L211.29 455.91 L212.48 455.88 L213.68 455.85 L214.88 455.82 L216.07 455.79 L217.27 455.77 L218.47 455.74 L219.66 455.72 L220.86 455.69 L222.06 455.67 L223.25 455.64 L224.45 455.61 L225.65 455.57 L226.84 455.54 L228.04 455.49 L229.24 455.45 L230.43 455.39 L231.63 455.32 L232.83 455.23 L234.02 455.12 L235.22 454.99 L236.42 454.86 L237.61 454.71 L238.81 454.56 L240.01 454.41 L241.20 454.25 L242.40 454.09 L243.60 453.94 L244.79 453.77 L245.99 453.59 L247.19 453.40 L248.38 453.19 L249.58 452.95 L250.78 452.69 L251.97 452.37 L253.17 451.99 L254.37 451.56 L255.56 451.08 L256.76 450.57 L257.96 449.97 L259.15 449.28 L260.35 448.48 L261.55 447.56 L262.74 446.44 L263.94 445.14 L265.14 443.59 L266.33 441.68 L267.53 439.43 L268.73 436.74 L269.92 433.38 L271.12 429.66 L272.32 425.53 L273.51 421.09 L274.71 416.81 L275.91 412.75 L277.10 408.74 L278.30 404.60 L279.50 400.15 L280.69 395.33 L281.89 390.21 L283.09 384.87 L284.28 379.26 L285.48 373.02 L286.68 367.13 L287.87 362.50 L289.07 358.60 L290.27 355.05 L291.46 351.54 L292.66 347.80 L293.86 344.33 L295.05 341.77 L296.25 339.75 L297.45 338.27 L298.64 337.37 L299.84 336.68 L301.04 336.14 L302.23 335.71 L303.43 335.35 L304.63 335.03 L305.82 334.75 L307.02 334.51 L308.22 334.31 L309.41 334.13 L310.61 333.96 L311.81 333.80 L313.00 333.66 L314.20 333.55 L315.40 333.46 L316.59 333.40 L317.79 333.36 L318.99 333.32 L320.18 333.28 L321.38 333.25 L322.58 333.22 L323.77 333.20 L324.97 333.18 L326.17 333.16 L327.36 333.16 L328.56 333.15 L328.56 333.15 L327.36 333.15 L326.17 333.15 L324.97 333.15 L323.77 333.15 L322.58 333.15 L321.38 333.15 L320.18 333.15 L318.99 333.15 L317.79 333.15 L316.59 333.15 L315.40 333.15 L314.20 333.15 L313.00 333.15 L311.81 333.15 L310.61 333.15 L309.41 333.15 L308.22 333.15 L307.02 333.15 L305.82 333.15 L304.63 333.15 L303.43 333.15 L302.23 333.15 L301.04 333.15 L299.84 333.15 L298.64 333.15 L297.45 333.15 L296.25 333.15 L295.05 333.15 L293.86 333.15 L292.66 333.15 L291.46 333.15 L290.27 333.15 L289.07 333.15 L287.87 333.15 L286.68 333.15 L285.48 333.15 L284.28 333.15 L283.09 333.15 L281.89 333.15 L280.69 333.15 L279.50 333.15 L278.30 333.15 L277.10 333.15 L275.91 333.15 L274.71 333.15 L273.51 333.15 L272.32 333.15 L271.12 333.15 L269.92 333.15 L268.73 333.15 L267.53 333.15 L266.33 333.15 L265.14 333.15 L263.94 333.15 L262.74 333.15 L261.55 333.15 L260.35 333.15 L259.15 333.15 L257.96 333.15 L256.76 333.15 L255.56 333.15 L254.37 333.15 L253.17 333.15 L251.97 333.15 L250.78 333.15 L249.58 333.15 L248.38 333.15 L247.19 333.15 L245.99 333.15 L244.79 333.14 L243.60 333.14 L242.40 333.14 L241.20 333.14 L240.01 333.14 L238.81 333.13 L237.61 333.13 L236.42 333.13 L235.22 333.13 L234.02 333.12 L232.83 333.12 L231.63 333.12 L230.43 333.12 L229.24 333.11 L228.04 333.11 L226.84 333.11 L225.65 333.11 L224.45 333.10 L223.25 333.10 L222.06 333.10 L220.86 333.10 L219.66 333.09 L218.47 333.09 L217.27 333.09 L216.07 333.09 L214.88 333.08 L213.68 333.08 L212.48 333.08 L211.29 333.08 L210.09 333.08 L208.89 333.07 L207.70 333.07 L206.50 333.07 L205.30 333.07 L204.11 333.07 L202.91 333.07 L201.71 333.07 L200.51 333.07 L199.32 333.07 L198.12 333.07 L196.92 333.07 L195.73 333.07 L194.53 333.09 L193.33 333.12 L192.14 333.15 L190.94 333.20 L189.74 333.25 L188.55 333.30 L187.35 333.36 L186.15 333.42 L184.96 333.49 L183.76 333.55 L182.56 333.61 L181.37 333.68 L180.17 333.74 L178.97 333.80 L177.78 333.87 L176.58 333.94 L175.38 334.02 L174.19 334.10 L172.99 334.18 L171.79 334.26 L170.60 334.35 L169.40 334.45 L168.20 334.55 L167.01 334.65 L165.81 334.76 L164.61 334.87 L163.42 334.99 L162.22 335.12 L161.02 335.25 L159.83 335.40 L158.63 335.55 L157.43 335.72 L156.24 335.91 L155.04 336.11 L153.84 336.33 L152.65 336.58 L151.45 336.84 L150.25 337.18 L149.06 337.59 L147.86 338.08 L146.66 338.63 L145.47 339.25 L144.27 339.99 L143.07 340.86 L141.88 341.88 L140.68 343.04 L139.48 344.35 L138.29 346.02 L137.09 348.08 L135.89 350.43 L134.70 353.14 L133.50 356.43 L132.30 360.14 L131.11 364.33 L129.91 369.10 L128.71 374.08 L127.52 379.10 L126.32 384.30 L125.12 389.58 L123.93 394.86 L122.73 400.03 L121.53 405.10 L120.34 410.13 L119.14 415.14 L117.94 420.19 L116.75 425.36 L115.55 430.59 L114.35 435.55 L113.16 440.22 L111.96 444.24 L110.76 447.49 L109.57 449.73 L108.37 451.32 L107.17 452.34 L105.98 452.99 L104.78 453.49 L103.58 453.88 L102.39 454.18 L101.19 454.45 L99.99 454.69 L98.80 454.91 L97.60 455.10 L96.40 455.28 L95.21 455.44 L94.01 455.60 L92.81 455.75 L91.62 455.90 L90.42 456.05 L89.22 456.19 L88.03 456.32 L86.83 456.45 L85.63 456.57 L84.44 456.68 L83.24 456.79 L82.04 456.89 L80.85 456.99 L79.65 457.07 L78.45 457.16 L77.26 457.24 L76.06 457.32 L74.86 457.40 L73.67 457.47 L72.47 457.54 L71.27 457.60 L70.08 457.66 L68.88 457.71 L67.68 457.76 L66.49 457.80Z" stroke="#d6181f" stroke-width="1.05"/>
</g>
<rect x="47.5" y="308.5" width="299.0" height="173.0" fill="none" stroke="#262626" stroke-width="1"/>
<g stroke="#262626" stroke-width="0.7" fill="none">
<path d="M122.2 481.5 v-3 M122.2 308.5 v3"/>
<path d="M197.0 481.5 v-3 M197.0 308.5 v3"/>
<path d="M271.8 481.5 v-3 M271.8 308.5 v3"/>
<path d="M47.5 438.2 h3 M346.5 438.2 h-3"/>
<path d="M47.5 395.0 h3 M346.5 395.0 h-3"/>
<path d="M47.5 351.8 h3 M346.5 351.8 h-3"/>
</g>
<text class="ser" x="47.2" y="493.3" font-size="10.5" text-anchor="middle" textLength="22.2" lengthAdjust="spacingAndGlyphs">−100</text>
<text class="ser" x="122.0" y="493.3" font-size="10.5" text-anchor="middle" textLength="17.2" lengthAdjust="spacingAndGlyphs">−50</text>
<text class="ser" x="196.7" y="493.3" font-size="10.5" text-anchor="middle" textLength="5.3" lengthAdjust="spacingAndGlyphs">0</text>
<text class="ser" x="271.4" y="493.3" font-size="10.5" text-anchor="middle" textLength="10.3" lengthAdjust="spacingAndGlyphs">50</text>
<text class="ser" x="346.2" y="493.3" font-size="10.5" text-anchor="middle" textLength="15.3" lengthAdjust="spacingAndGlyphs">100</text>
<text class="ser" x="44.5" y="484.7" font-size="10.5" text-anchor="end" textLength="22.2" lengthAdjust="spacingAndGlyphs">−100</text>
<text class="ser" x="44.5" y="441.4" font-size="10.5" text-anchor="end" textLength="17.2" lengthAdjust="spacingAndGlyphs">−50</text>
<text class="ser" x="44.5" y="398.2" font-size="10.5" text-anchor="end" textLength="5.3" lengthAdjust="spacingAndGlyphs">0</text>
<text class="ser" x="44.5" y="354.9" font-size="10.5" text-anchor="end" textLength="10.3" lengthAdjust="spacingAndGlyphs">50</text>
<text class="ser" x="44.5" y="311.7" font-size="10.5" text-anchor="end" textLength="15.3" lengthAdjust="spacingAndGlyphs">100</text>
<g>
<text class="ser" x="141.9" y="506.5" font-size="10.3" textLength="37.2" lengthAdjust="spacingAndGlyphs">Electric</text>
<text class="ser" x="181.7" y="506.5" font-size="10.3" textLength="18.5" lengthAdjust="spacingAndGlyphs">field</text>
<text class="ser" x="204.4" y="507.1" font-size="12.4">[</text>
<text class="ser" x="207.4" y="506.5" font-size="10.3" textLength="18.0" lengthAdjust="spacingAndGlyphs">MV</text>
<text class="ser" x="230.0" y="506.5" font-size="10.3" font-style="italic" textLength="8.7" lengthAdjust="spacingAndGlyphs">m</text>
<text class="ser" x="239.1" y="503.5" font-size="7.4" textLength="8.4" lengthAdjust="spacingAndGlyphs">−1</text>
<text class="ser" x="247.4" y="507.1" font-size="12.4">]</text>
</g>
<g transform="translate(17.7,447.0) rotate(-90)">
<text class="ser" x="-0.2" y="0.0" font-size="10.3" textLength="55.2" lengthAdjust="spacingAndGlyphs">Polarisation</text>
<text class="ser" x="58.2" y="0.6" font-size="12.4">[</text>
<text class="ser" x="61.4" y="0.0" font-size="10.3" textLength="17.3" lengthAdjust="spacingAndGlyphs">mC</text>
<text class="ser" x="83.1" y="0.0" font-size="10.3" font-style="italic" textLength="8.1" lengthAdjust="spacingAndGlyphs">m</text>
<text class="ser" x="92.0" y="-3.0" font-size="7.4" textLength="8.8" lengthAdjust="spacingAndGlyphs">−2</text>
<text class="ser" x="100.7" y="0.6" font-size="12.4">]</text>
</g>
<rect x="55.3" y="316.0" width="61.1" height="58.7" fill="#ffffff" stroke="#3a3a3a" stroke-width="1.1"/>
<path d="M57.0 322.5 H76.9" stroke="#000000" stroke-width="1" fill="none"/>
<text class="ser" x="79.0" y="325.3" font-size="10.8" textLength="34.8" lengthAdjust="spacingAndGlyphs">Layer 1</text>
<path d="M57.0 334.0 H76.9" stroke="#3f8fe0" stroke-width="1" fill="none"/>
<text class="ser" x="79.0" y="336.8" font-size="10.8" textLength="34.8" lengthAdjust="spacingAndGlyphs">Layer 2</text>
<path d="M57.0 345.5 H76.9" stroke="#74c52c" stroke-width="1" fill="none"/>
<text class="ser" x="79.0" y="348.3" font-size="10.8" textLength="34.8" lengthAdjust="spacingAndGlyphs">Layer 3</text>
<path d="M57.0 357.0 H76.9" stroke="#f47a2a" stroke-width="1" fill="none"/>
<text class="ser" x="79.0" y="359.8" font-size="10.8" textLength="34.8" lengthAdjust="spacingAndGlyphs">Layer 4</text>
<path d="M57.0 368.5 H76.9" stroke="#d6181f" stroke-width="1" fill="none"/>
<text class="ser" x="79.0" y="371.3" font-size="10.8" textLength="34.8" lengthAdjust="spacingAndGlyphs">Layer 5</text>
<g stroke="#d9d9d9" stroke-width="0.7" fill="none">
<path d="M482.1 308.0 V478.6"/>
<path d="M518.9 308.0 V478.6"/>
<path d="M555.8 308.0 V478.6"/>
<path d="M592.6 308.0 V478.6"/>
<path d="M629.5 308.0 V478.6"/>
<path d="M666.3 308.0 V478.6"/>
<path d="M703.1 308.0 V478.6"/>
<path d="M445.2 444.5 H740.0"/>
<path d="M445.2 410.4 H740.0"/>
<path d="M445.2 376.2 H740.0"/>
<path d="M445.2 342.1 H740.0"/>
</g>
<g fill="none" stroke-linejoin="round">
<path d="M445.20 452.33 L452.57 450.62 L482.05 446.19 L518.90 441.75 L555.75 438.34 L577.86 436.29 L596.28 433.56 L629.45 433.22 L666.30 432.54 L703.15 432.20 L740.00 432.20" stroke="#000000" stroke-width="1.1"/>
<path d="M445.20 461.54 L452.57 458.81 L482.05 454.03 L518.90 449.26 L555.75 444.48 L577.86 441.07 L596.28 437.86 L629.45 437.31 L666.30 436.97 L703.15 436.29 L740.00 436.29" stroke="#3f8fe0" stroke-width="1.1"/>
<path d="M445.20 444.48 L452.57 443.12 L482.05 438.00 L518.90 431.51 L555.75 427.42 L577.86 424.69 L596.28 420.94 L629.45 420.25 L666.30 419.23 L703.15 419.57 L740.00 419.23" stroke="#74c52c" stroke-width="1.1"/>
<path d="M445.20 420.60 L452.57 419.23 L482.05 414.45 L518.90 410.02 L555.75 406.27 L577.86 403.88 L596.28 400.47 L603.65 401.15 L629.45 400.47 L666.30 399.78 L703.15 399.78 L740.00 399.44" stroke="#f47a2a" stroke-width="1.1"/>
<path d="M445.20 349.90 L452.57 348.60 L482.05 344.17 L518.90 340.76 L555.75 337.34 L577.86 335.98 L596.28 333.25 L629.45 333.25 L666.30 332.57 L703.15 332.23 L740.00 332.29" stroke="#d6181f" stroke-width="1.1"/>
</g>
<rect x="445.2" y="308.0" width="294.8" height="170.6" fill="none" stroke="#262626" stroke-width="1"/>
<g stroke="#262626" stroke-width="0.7" fill="none">
<path d="M482.1 478.6 v-3 M482.1 308.0 v3"/>
<path d="M518.9 478.6 v-3 M518.9 308.0 v3"/>
<path d="M555.8 478.6 v-3 M555.8 308.0 v3"/>
<path d="M592.6 478.6 v-3 M592.6 308.0 v3"/>
<path d="M629.5 478.6 v-3 M629.5 308.0 v3"/>
<path d="M666.3 478.6 v-3 M666.3 308.0 v3"/>
<path d="M703.1 478.6 v-3 M703.1 308.0 v3"/>
<path d="M445.2 444.5 h3 M740.0 444.5 h-3"/>
<path d="M445.2 410.4 h3 M740.0 410.4 h-3"/>
<path d="M445.2 376.2 h3 M740.0 376.2 h-3"/>
<path d="M445.2 342.1 h3 M740.0 342.1 h-3"/>
</g>
<text class="ser" x="444.9" y="490.7" font-size="10.5" text-anchor="middle" textLength="17.2" lengthAdjust="spacingAndGlyphs">−20</text>
<text class="ser" x="481.8" y="490.7" font-size="10.5" text-anchor="middle" textLength="17.2" lengthAdjust="spacingAndGlyphs">−15</text>
<text class="ser" x="518.6" y="490.7" font-size="10.5" text-anchor="middle" textLength="17.2" lengthAdjust="spacingAndGlyphs">−10</text>
<text class="ser" x="555.5" y="490.7" font-size="10.5" text-anchor="middle" textLength="12.2" lengthAdjust="spacingAndGlyphs">−5</text>
<text class="ser" x="592.3" y="490.7" font-size="10.5" text-anchor="middle" textLength="5.3" lengthAdjust="spacingAndGlyphs">0</text>
<text class="ser" x="629.2" y="490.7" font-size="10.5" text-anchor="middle" textLength="5.3" lengthAdjust="spacingAndGlyphs">5</text>
<text class="ser" x="666.0" y="490.7" font-size="10.5" text-anchor="middle" textLength="10.3" lengthAdjust="spacingAndGlyphs">10</text>
<text class="ser" x="702.9" y="490.7" font-size="10.5" text-anchor="middle" textLength="10.3" lengthAdjust="spacingAndGlyphs">15</text>
<text class="ser" x="739.7" y="490.7" font-size="10.5" text-anchor="middle" textLength="10.3" lengthAdjust="spacingAndGlyphs">20</text>
<text class="ser" x="442.2" y="481.8" font-size="10.5" text-anchor="end" textLength="10.3" lengthAdjust="spacingAndGlyphs">50</text>
<text class="ser" x="442.2" y="447.7" font-size="10.5" text-anchor="end" textLength="10.3" lengthAdjust="spacingAndGlyphs">55</text>
<text class="ser" x="442.2" y="413.6" font-size="10.5" text-anchor="end" textLength="10.3" lengthAdjust="spacingAndGlyphs">60</text>
<text class="ser" x="442.2" y="379.4" font-size="10.5" text-anchor="end" textLength="10.3" lengthAdjust="spacingAndGlyphs">65</text>
<text class="ser" x="442.2" y="345.3" font-size="10.5" text-anchor="end" textLength="10.3" lengthAdjust="spacingAndGlyphs">70</text>
<text class="ser" x="442.2" y="311.2" font-size="10.5" text-anchor="end" textLength="10.3" lengthAdjust="spacingAndGlyphs">75</text>
<g>
<text class="ser" x="538.6" y="503.6" font-size="10.3" textLength="36.6" lengthAdjust="spacingAndGlyphs">Electric</text>
<text class="ser" x="577.8" y="503.6" font-size="10.3" textLength="18.2" lengthAdjust="spacingAndGlyphs">field</text>
<text class="ser" x="600.2" y="504.2" font-size="12.4">[</text>
<text class="ser" x="603.1" y="503.6" font-size="10.3" textLength="17.7" lengthAdjust="spacingAndGlyphs">MV</text>
<text class="ser" x="625.4" y="503.6" font-size="10.3" font-style="italic" textLength="8.6" lengthAdjust="spacingAndGlyphs">m</text>
<text class="ser" x="634.3" y="500.6" font-size="7.4" textLength="8.3" lengthAdjust="spacingAndGlyphs">−1</text>
<text class="ser" x="642.5" y="504.2" font-size="12.4">]</text>
</g>
<g transform="translate(427.5,444.6) rotate(-90)">
<text class="ser" x="-0.2" y="0.0" font-size="10.3" textLength="54.2" lengthAdjust="spacingAndGlyphs">Polarisation</text>
<text class="ser" x="57.1" y="0.6" font-size="12.4">[</text>
<text class="ser" x="60.3" y="0.0" font-size="10.3" textLength="17.0" lengthAdjust="spacingAndGlyphs">mC</text>
<text class="ser" x="81.6" y="0.0" font-size="10.3" font-style="italic" textLength="8.0" lengthAdjust="spacingAndGlyphs">m</text>
<text class="ser" x="90.3" y="-3.0" font-size="7.4" textLength="8.6" lengthAdjust="spacingAndGlyphs">−2</text>
<text class="ser" x="98.9" y="0.6" font-size="12.4">]</text>
</g>
<rect x="452.7" y="315.7" width="60.7" height="58.4" fill="#ffffff" stroke="#3a3a3a" stroke-width="1.1"/>
<path d="M454.8 321.9 H474.3" stroke="#000000" stroke-width="1" fill="none"/>
<text class="ser" x="476.3" y="324.7" font-size="10.8" textLength="34.1" lengthAdjust="spacingAndGlyphs">Layer 1</text>
<path d="M454.8 333.4 H474.3" stroke="#3f8fe0" stroke-width="1" fill="none"/>
<text class="ser" x="476.3" y="336.2" font-size="10.8" textLength="34.1" lengthAdjust="spacingAndGlyphs">Layer 2</text>
<path d="M454.8 344.7 H474.3" stroke="#74c52c" stroke-width="1" fill="none"/>
<text class="ser" x="476.3" y="347.5" font-size="10.8" textLength="34.1" lengthAdjust="spacingAndGlyphs">Layer 3</text>
<path d="M454.8 356.1 H474.3" stroke="#f47a2a" stroke-width="1" fill="none"/>
<text class="ser" x="476.3" y="358.9" font-size="10.8" textLength="34.1" lengthAdjust="spacingAndGlyphs">Layer 4</text>
<path d="M454.8 367.5 H474.3" stroke="#d6181f" stroke-width="1" fill="none"/>
<text class="ser" x="476.3" y="370.3" font-size="10.8" textLength="34.1" lengthAdjust="spacingAndGlyphs">Layer 5</text>
</svg></body></html>
